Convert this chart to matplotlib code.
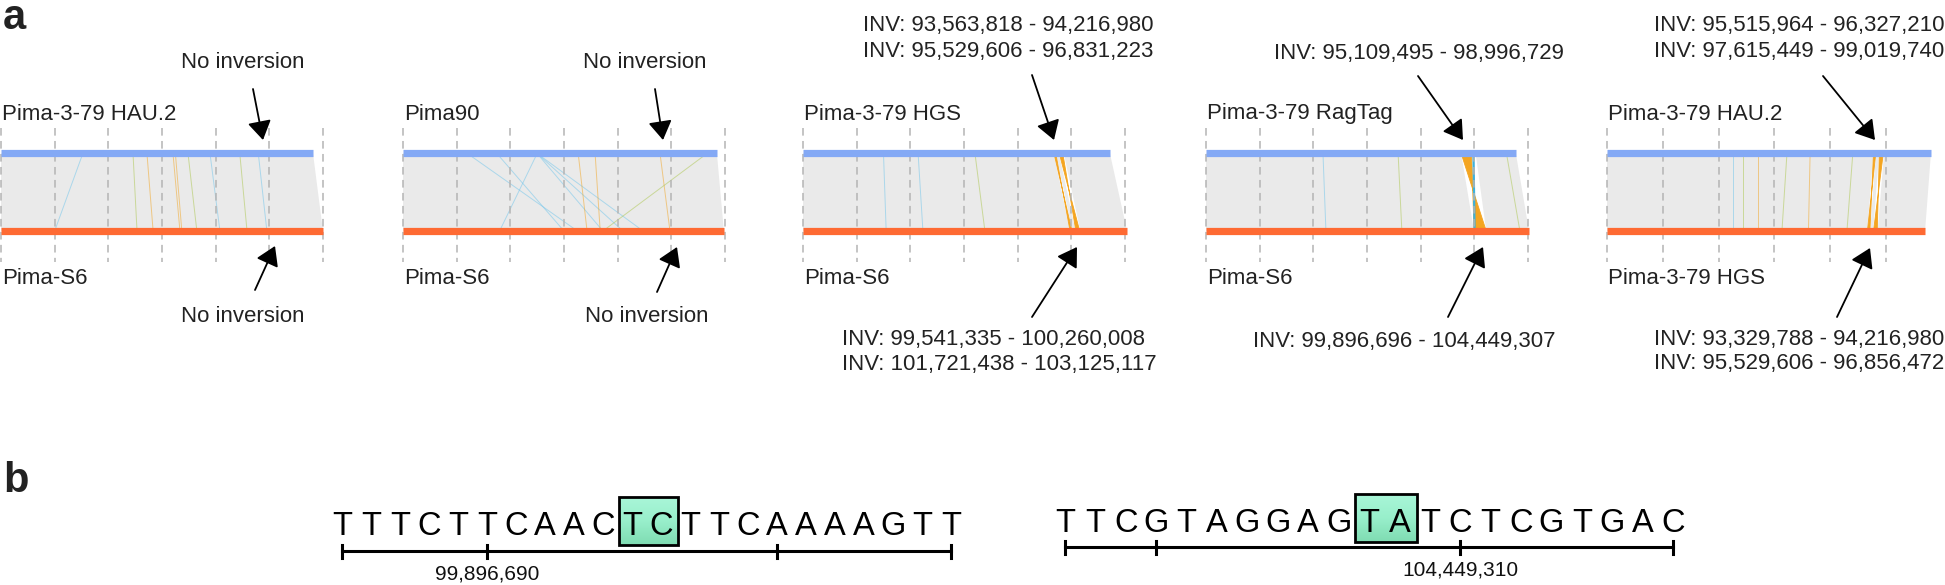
import numpy as np
import matplotlib.pyplot as plt
from matplotlib.patches import Polygon, Rectangle
from matplotlib.colors import LinearSegmentedColormap

plt.rcParams['font.family'] = ['Liberation Sans', 'DejaVu Sans']

# ---------------- panel a : synteny between assemblies (Mb) ----------------
top_names = ['Pima-3-79 HAU.2', 'Pima90', 'Pima-3-79 HGS', 'Pima-3-79 RagTag', 'Pima-3-79 HAU.2']
bottom_names = ['Pima-S6', 'Pima-S6', 'Pima-S6', 'Pima-S6', 'Pima-3-79 HGS']
top_len = [116.3, 117.0, 114.4, 115.5, 116.1]
bottom_len = [120.0, 119.6, 120.8, 120.4, 114.0]
grid_max = [120, 120, 120, 120, 100]

# collinear blocks: (top start, top end, bottom start, bottom end)
collinear = [
    [(0, 116.3, 0, 120.0)],
    [(0, 117.0, 0, 119.6)],
    [(0, 93.5, 0, 99.5), (94.3, 95.4, 100.4, 101.6), (97.2, 114.4, 103.4, 120.8)],
    [(0, 95.1, 0, 99.9), (100.5, 115.5, 104.45, 120.4)],
    [(0, 95.5, 0, 93.3), (96.4, 97.5, 94.3, 95.4), (99.3, 116.1, 97.0, 114.0)],
]

# inverted alignments: (top start, top end, bottom start, bottom end)
inversions = [
    [],
    [],
    [(93.56, 94.22, 99.54, 100.26), (95.53, 96.83, 101.72, 103.13)],
    [(95.11, 99.00, 99.90, 104.45)],
    [(95.52, 96.33, 93.33, 94.22), (97.62, 99.02, 95.53, 96.86)],
]

# small coloured alignments: (top pos, bottom pos, kind)
small_links = [
    [(49.2, 50.7, 'g'), (54.4, 56.7, 'o'), (64.1, 66.7, 'o'), (65.0, 67.4, 'o'),
     (69.7, 73.0, 'g'), (77.9, 81.6, 'b'), (89.0, 91.7, 'g'), (95.9, 99.1, 'b'),
     (30.5, 20.0, 'b')],
    [(50.0, 36.0, 'b'), (50.0, 74.5, 'b'), (50.0, 82.0, 'b'), (50.0, 89.5, 'b'),
     (24.0, 65.0, 'b'), (35.0, 60.0, 'b'), (65.3, 68.6, 'o'), (71.6, 73.5, 'o'),
     (95.8, 99.5, 'o'), (113.3, 74.5, 'g')],
    [(42.9, 44.7, 'b'), (64.1, 67.8, 'g'), (30.0, 31.0, 'b')],
    [(43.6, 44.7, 'b'), (71.6, 73.0, 'g'), (112.0, 117.0, 'g')],
    [(48.7, 48.7, 'g'), (54.2, 54.2, 'o'), (64.5, 62.7, 'g'), (72.8, 72.2, 'o'),
     (88.1, 86.0, 'g'), (45.0, 45.0, 'b')],
]
link_colors = {'o': '#f2a31c', 'g': '#a9c548', 'b': '#6cc4ea'}

top_notes = ['No inversion', 'No inversion',
             'INV: 93,563,818 - 94,216,980\nINV: 95,529,606 - 96,831,223',
             'INV: 95,109,495 - 98,996,729',
             'INV: 95,515,964 - 96,327,210\nINV: 97,615,449 - 99,019,740']
bottom_notes = ['No inversion', 'No inversion',
                'INV: 99,541,335 - 100,260,008\nINV: 101,721,438 - 103,125,117',
                'INV: 99,896,696 - 104,449,307',
                'INV: 93,329,788 - 94,216,980\nINV: 95,529,606 - 96,856,472']

# ---------------- panel b : breakpoint sequences ----------------
seq1 = 'TTTCTTCAACTCTTCAAAAGTT'
seq1_start = 99896685
seq1_ticks = [99896685, 99896690, 99896700, 99896706]
seq1_label = 99896690
seq1_box = (10, 11)

seq2 = 'TTCGTAGGAGTATCTCGTGAC'
seq2_start = 104449297
seq2_ticks = [104449297, 104449300, 104449310, 104449317]
seq2_label = 104449310
seq2_box = (10, 11)

# ---------------- layout (pixels) ----------------
W, H = 1945, 585
panel_x0 = [1, 403, 803, 1206, 1607]
px_per_mb = [2.683, 2.683, 2.683, 2.683, 2.79]
y_top, y_bot = 153.5, 231.0
top_notes_xy = [(243, 62, 'center'), (645, 62, 'center'), (863, 38.5, 'left'),
                (1274, 53, 'left'), (1654, 38.5, 'left')]
bottom_notes_xy = [(243, 316, 'center'), (647, 316, 'center'), (842, 352, 'left'),
                   (1253, 341, 'left'), (1654, 351.5, 'left')]
top_arrows = [((253, 89), (263, 140)), ((655, 89), (663, 140)), ((1032, 75), (1054, 140)),
              ((1418, 76), (1463, 140)), ((1823, 76), (1875, 140))]
bottom_arrows = [((255, 290), (275, 246)), ((657, 292), (677, 247)), ((1032, 317), (1077, 247)),
                 ((1448, 317), (1483, 247)), ((1837, 317), (1870, 248))]

fig = plt.figure(figsize=(W / 100, H / 100), dpi=100)


def px_axes(x0, x1, y0, y1):
    ax = fig.add_axes([x0 / W, 1 - y1 / H, (x1 - x0) / W, (y1 - y0) / H])
    ax.set_ylim(y1, y0)
    ax.axis('off')
    return ax


for i in range(5):
    s = px_per_mb[i]
    x0 = panel_x0[i]
    right = min(W, x0 + 126 * s)
    ax = px_axes(x0 - 5, right, 100, 300)
    ax.set_xlim(-5 / s, (right - x0) / s)

    for ts, te, bs, be in collinear[i]:
        ax.add_patch(Polygon([(ts, y_top), (te, y_top), (be, y_bot), (bs, y_bot)],
                             closed=True, facecolor='#eaeaea', edgecolor='none', zorder=1))
    for tp, bp, k in small_links[i]:
        ax.plot([tp, bp], [y_top, y_bot], color=link_colors[k], lw=0.7, alpha=0.5, zorder=2)
    for ts, te, bs, be in inversions[i]:
        ax.add_patch(Polygon([(ts, y_top), (te, y_top), (bs, y_bot), (be, y_bot)],
                             closed=True, facecolor='#f4a521', edgecolor='#f4a521',
                             lw=0.6, zorder=3))
    if i == 3:
        ax.plot([99.7, 100.1], [y_top, y_bot], color='#3db2dc', lw=1.6, zorder=4)

    for g in range(0, grid_max[i] + 1, 20):
        ax.plot([g, g], [128, 262], color='#b4b4b4', lw=1.1, dashes=(5, 3.5), zorder=4)

    ax.plot([0, top_len[i]], [y_top, y_top], color='#84a9f5', lw=5.2,
            solid_capstyle='butt', zorder=5)
    ax.plot([0, bottom_len[i]], [y_bot, y_bot], color='#fe6a33', lw=5.2,
            solid_capstyle='butt', zorder=5)

# overlay for labels and arrows
ov = fig.add_axes([0, 0, 1, 1])
ov.set_xlim(0, W)
ov.set_ylim(H, 0)
ov.axis('off')

ov.text(3, 29, 'a', fontsize=30, fontweight='bold', color='#222222', va='baseline')
ov.text(3, 492, 'b', fontsize=30, fontweight='bold', color='#222222', va='baseline')

for i in range(5):
    ov.text(panel_x0[i] + 1, 114, top_names[i], fontsize=16, color='#222222', va='center')
    ov.text(panel_x0[i] + 1, 278, bottom_names[i], fontsize=16, color='#222222', va='center')
    x, y, ha = top_notes_xy[i]
    ov.text(x, y, top_notes[i], fontsize=16, color='#222222', ha=ha, va='center',
            linespacing=1.25)
    x, y, ha = bottom_notes_xy[i]
    ov.text(x, y, bottom_notes[i], fontsize=16, color='#222222', ha=ha, va='center',
            linespacing=1.25)
    for tail, tip in (top_arrows[i], bottom_arrows[i]):
        ov.annotate('', xy=tip, xytext=tail,
                    arrowprops=dict(arrowstyle='-|>,head_length=0.4,head_width=0.25',
                                    color='black', lw=1.3, mutation_scale=29,
                                    shrinkA=0, shrinkB=0))

# panel b
box_cmap = LinearSegmentedColormap.from_list('mint', ['#a9f6d8', '#98efcb', '#7fdcb2'])
seq_sets = [
    (seq1, seq1_start, seq1_ticks, seq1_label, seq1_box, 342, 29.0, 535, 497, 545, 551),
    (seq2, seq2_start, seq2_ticks, seq2_label, seq2_box, 1065, 30.4, 532, 494, 542, 547),
]
for seq, start, ticks, label, box, px0, step, base_y, by0, by1, line_y in seq_sets:
    left_px, right_px = px0 - 60, px0 + 22 * step + 40
    ax = px_axes(left_px, right_px, 470, 585)

    b0 = start + box[0] - 0.45
    b1 = start + box[1] + 0.57
    grad = np.linspace(0, 1, 50).reshape(-1, 1)
    ax.imshow(grad, cmap=box_cmap, extent=(b0, b1, by1, by0), aspect='auto',
              zorder=1, interpolation='bilinear')
    ax.add_patch(Rectangle((b0, by0), b1 - b0, by1 - by0, facecolor='none',
                           edgecolor='black', lw=2.0, zorder=3))
    ax.set_xlim(start + (left_px - px0) / step, start + (right_px - px0) / step)
    ax.set_ylim(585, 470)

    for j, ch in enumerate(seq):
        ax.text(start + j, base_y, ch, fontsize=23.5, ha='center', va='baseline',
                color='black', zorder=4)

    ax.plot([ticks[0], ticks[-1]], [line_y, line_y], color='black', lw=2.2, zorder=2)
    for t in ticks:
        ax.plot([t, t], [line_y - 6.5, line_y + 6.5], color='black', lw=2.2, zorder=2)
    ax.text(label, line_y + 14, f'{label:,}', fontsize=15, ha='center', va='top',
            color='#111111')

fig.savefig('out.png', dpi=100)
